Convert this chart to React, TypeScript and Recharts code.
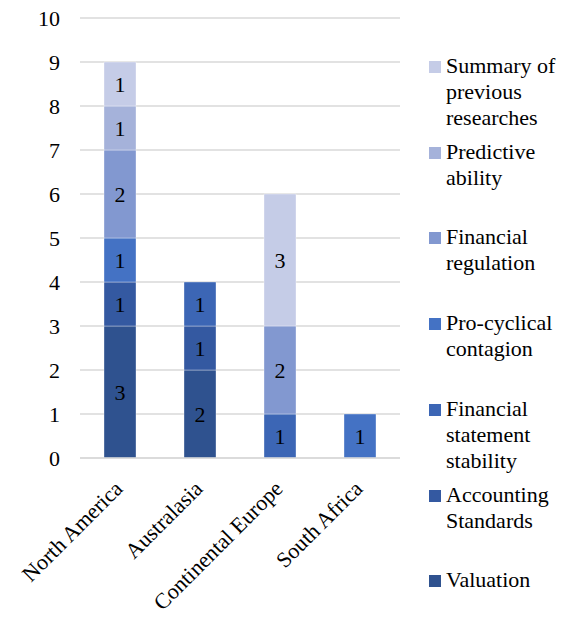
import { Bar, BarChart, CartesianGrid, LabelList, Legend, XAxis, YAxis } from "recharts";

const regions = ["North America", "Australasia", "Continental Europe", "South Africa"];

// bottom to top of each stack
const valuation = [3, 2, 0, 0];
const accountingStandards = [1, 1, 0, 0];
const statementStability = [0, 1, 1, 0];
const proCyclical = [1, 0, 0, 1];
const regulation = [2, 0, 2, 0];
const predictive = [1, 0, 0, 0];
const summary = [1, 0, 3, 0];

const yTicks = [0, 1, 2, 3, 4, 5, 6, 7, 8, 9, 10];

const series = [
  { key: "valuation", name: "Valuation", values: valuation, color: "#2F528F" },
  { key: "accounting", name: "Accounting Standards", values: accountingStandards, color: "#3459A1" },
  { key: "stability", name: "Financial statement stability", values: statementStability, color: "#3C66B5" },
  { key: "procyclical", name: "Pro-cyclical contagion", values: proCyclical, color: "#4472C4" },
  { key: "regulation", name: "Financial regulation", values: regulation, color: "#8298D0" },
  { key: "predictive", name: "Predictive ability", values: predictive, color: "#A5B2DA" },
  { key: "summary", name: "Summary of previous researches", values: summary, color: "#C5CCE7" },
];

const data = regions.map((r, i) => {
  const row: Record<string, string | number> = { region: r };
  series.forEach((s) => {
    row[s.key] = s.values[i];
  });
  return row;
});

const font = "Liberation Serif, Times New Roman, serif";
const fs = 22;

function RegionTick({ x, y, payload }: any) {
  const ax = x + 4;
  const ay = y + 30;
  return (
    <text
      x={ax}
      y={ay}
      transform={`rotate(-45, ${ax}, ${ay})`}
      textAnchor="end"
      style={{ fontFamily: font }}
      fontSize={fs}
      fill="#000"
    >
      {payload.value}
    </text>
  );
}

function SideLegend() {
  const items = [...series].reverse();
  return (
    <div style={{ position: "relative", width: 158, height: 622, fontFamily: font, fontSize: fs, color: "#000" }}>
      {items.map((s, i) => (
        <div
          key={s.key}
          style={{ position: "absolute", left: 9, top: 53 + i * 85.7, display: "flex", alignItems: "flex-start" }}
        >
          <span
            style={{ width: 12, height: 12, background: s.color, marginTop: 8, marginRight: 5, flex: "none" }}
          />
          <span style={{ width: 130, lineHeight: "26px" }}>{s.name}</span>
        </div>
      ))}
    </div>
  );
}

export default function App() {
  return (
    <div style={{ position: "absolute", left: 0, top: 0, fontFamily: font }}>
      <BarChart
        width={578}
        height={622}
        data={data}
        margin={{ top: 18, right: 178, left: 0, bottom: 0 }}
        barCategoryGap="30%"
        style={{ fontFamily: font }}
      >
        <CartesianGrid vertical={false} stroke="#D9D9D9" strokeWidth={1.5} />
        <XAxis
          dataKey="region"
          height={164}
          axisLine={{ stroke: "#D9D9D9", strokeWidth: 1.5 }}
          tickLine={false}
          tickSize={0}
          interval={0}
          tick={<RegionTick />}
        />
        <YAxis
          width={80}
          domain={[0, 10]}
          ticks={yTicks}
          axisLine={false}
          tickLine={false}
          tickSize={0}
          tickMargin={20}
          tick={{ style: { fontFamily: font }, fontSize: fs, fill: "#000" }}
        />
        <Legend
          layout="vertical"
          align="center"
          verticalAlign="middle"
          wrapperStyle={{ top: 0, left: 420, width: 158, height: 622 }}
          content={() => <SideLegend />}
        />
        {series.map((s) => (
          <Bar
            key={s.key}
            dataKey={s.key}
            name={s.name}
            stackId="a"
            fill={s.color}
            stroke="rgba(255,255,255,0.35)"
            strokeWidth={1}
            isAnimationActive={false}
          >
            <LabelList
              dataKey={s.key}
              position="center"
              formatter={(v: any) => (v ? v : "")}
              style={{ fontFamily: font, fontSize: fs, fill: "#000" }}
            />
          </Bar>
        ))}
      </BarChart>
    </div>
  );
}
